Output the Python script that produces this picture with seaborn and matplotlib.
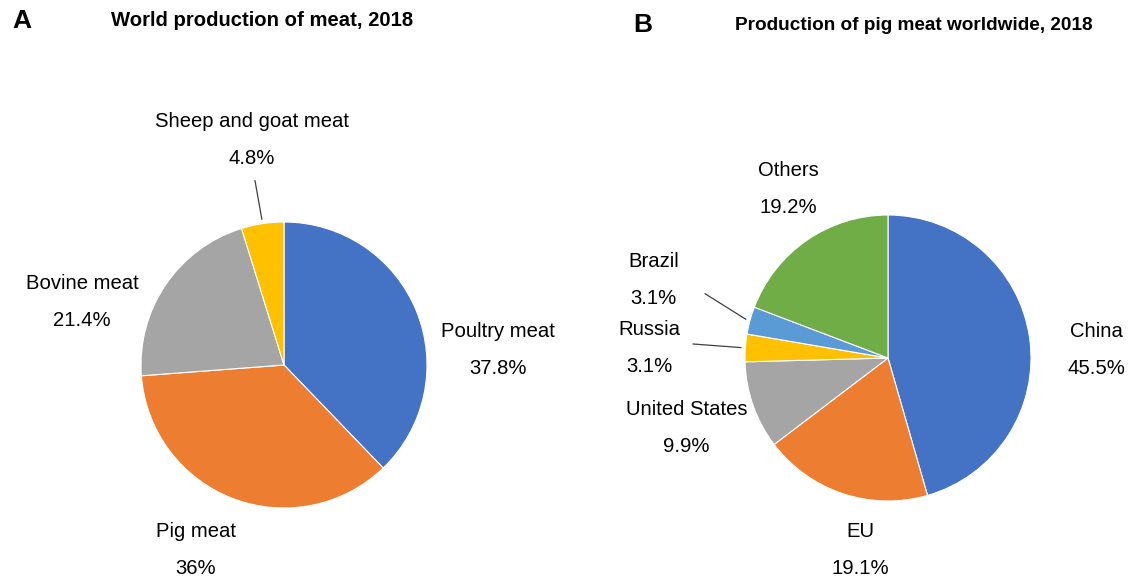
import numpy as np
import matplotlib
matplotlib.use("Agg")
import matplotlib.pyplot as plt
import seaborn as sns

# World meat production shares, 2018
meat_types = ["Poultry meat", "Pig meat", "Bovine meat", "Sheep and goat meat"]
meat_shares = [37.8, 36, 21.4, 4.8]

# Pig meat production by producer, 2018
pig_producers = ["China", "EU", "United States", "Russia", "Brazil", "Others"]
pig_shares = [45.5, 19.1, 9.9, 3.1, 3.1, 19.2]

sns.set_theme(style="white")
plt.rcParams["font.family"] = ["Liberation Sans", "DejaVu Sans"]

office = sns.color_palette(["#4472C4", "#ED7D31", "#A5A5A5", "#FFC000", "#5B9BD5", "#70AD47"])

W, H = 1129, 579
fig = plt.figure(figsize=(W / 100, H / 100), dpi=100)


def pie_axes(cx, cy, r):
    ax = fig.add_axes([(cx - r) / W, 1 - (cy + r) / H, 2 * r / W, 2 * r / H])
    ax.set_xlim(-1, 1)
    ax.set_ylim(-1, 1)
    ax.set_aspect("equal")
    ax.axis("off")
    return ax


def edge_point(values, i, r=1.03):
    frac = np.asarray(values, float) / np.sum(values)
    mid = np.cumsum(frac)[i] - frac[i] / 2
    ang = np.deg2rad(90 - 360 * mid)
    return r * np.cos(ang), r * np.sin(ang)


def fmt(v):
    return f"{v:g}%"


def draw(ax, names, values, label_pos, leaders):
    ax.pie(values, colors=office[:len(values)], startangle=90, counterclock=False,
           radius=1, wedgeprops=dict(edgecolor="white", linewidth=0.8), frame=False)
    ax.set_xlim(-1, 1)
    ax.set_ylim(-1, 1)
    for i, (name, v) in enumerate(zip(names, values)):
        x, y = label_pos[name]
        if name in leaders:
            ax.annotate("", xy=edge_point(values, i), xytext=leaders[name],
                        arrowprops=dict(arrowstyle="-", color="#404040", lw=0.9,
                                        shrinkA=0, shrinkB=0),
                        annotation_clip=False)
        ax.text(x, y, f"{name}\n{fmt(v)}", ha="center", va="center", fontsize=14.6,
                linespacing=2.2, color="black", clip_on=False)


R = 143
axA = pie_axes(284, 365, R)
draw(axA, meat_types, meat_shares,
     {"Poultry meat": (1.497, 0.105), "Pig meat": (-0.615, -1.294),
      "Bovine meat": (-1.413, 0.441), "Sheep and goat meat": (-0.224, 1.573)},
     {"Sheep and goat meat": (-0.203, 1.29)})

axB = pie_axes(888, 358, R)
draw(axB, pig_producers, pig_shares,
     {"China": (1.46, 0.056), "EU": (-0.196, -1.34), "United States": (-1.41, -0.49),
      "Russia": (-1.67, 0.07), "Brazil": (-1.64, 0.547), "Others": (-0.695, 1.18)},
     {"Brazil": (-1.28, 0.45), "Russia": (-1.364, 0.098)})

fig.text(22 / W, 1 - 21 / H, "A", fontsize=19, fontweight="bold", ha="center", va="center",
         color="black")
fig.text(262 / W, 1 - 20 / H, "World production of meat, 2018", fontsize=14.6,
         fontweight="bold", ha="center", va="center", color="black")
fig.text(643 / W, 1 - 25 / H, "B", fontsize=19, fontweight="bold", ha="center", va="center",
         color="black")
fig.text(914 / W, 1 - 25 / H, "Production of pig meat worldwide, 2018", fontsize=13.7,
         fontweight="bold", ha="center", va="center", color="black")

fig.savefig("out.png", dpi=100, facecolor="white")
